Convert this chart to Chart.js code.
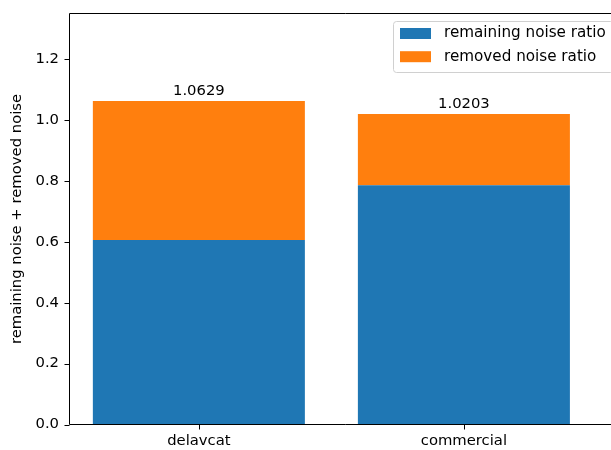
<!DOCTYPE html>
<html>
<head>
<meta charset="utf-8">
<script src="https://cdn.jsdelivr.net/npm/chart.js@4"></script>
<style>
  html, body { margin: 0; padding: 0; background: #fff; overflow: hidden; width: 611px; height: 450px; }
  #wrap { position: absolute; left: 0; top: 0; width: 620px; height: 450px; }
</style>
</head>
<body>
<div id="wrap"><canvas id="c"></canvas></div>
<script>
const categories = ['delavcat', 'commercial'];
const remaining = [0.606, 0.786];
const removed = [0.4569, 0.2343];
const totalLabels = ['1.0629', '1.0203'];
const seriesNames = ['remaining noise ratio', 'removed noise ratio'];
const yTicks = [0.0, 0.2, 0.4, 0.6, 0.8, 1.0, 1.2];
const yTitle = 'remaining noise + removed noise';

const FONT = 'DejaVu Sans';
const FS = 14.8;
const FSL = 15.2;
const BLUE = '#1f77b4', ORANGE = '#ff7f0e';

const overlay = {
  id: 'overlay',
  afterDraw(chart) {
    const ctx = chart.ctx;
    const a = chart.chartArea;
    const xs = chart.scales.x, ys = chart.scales.y;
    ctx.save();
    // keep the empty right part of the plot area clean
    ctx.fillStyle = '#fff';
    ctx.fillRect(xs.getPixelForValue(1.45), a.top + 70, a.right - xs.getPixelForValue(1.45) + 2, a.bottom - a.top - 71);
    ctx.strokeStyle = '#000';
    ctx.lineWidth = 1;
    const L = Math.floor(a.left) + 0.5, B = Math.floor(a.bottom) + 0.5, T = Math.floor(a.top) + 0.5;
    ctx.beginPath();
    ctx.moveTo(L, T); ctx.lineTo(a.right + 2, T);
    ctx.moveTo(L, T); ctx.lineTo(L, B);
    ctx.moveTo(L, B); ctx.lineTo(a.right + 2, B);
    categories.forEach((c, i) => {
      const px = Math.round(xs.getPixelForValue(i)) + 0.5;
      ctx.moveTo(px, B); ctx.lineTo(px, B + 5);
    });
    yTicks.forEach(v => {
      const py = Math.round(ys.getPixelForValue(v)) + 0.5;
      ctx.moveTo(L, py); ctx.lineTo(L - 5, py);
    });
    ctx.stroke();
    ctx.fillStyle = '#000';
    ctx.font = FS + 'px "' + FONT + '"';
    ctx.textAlign = 'center';
    ctx.textBaseline = 'alphabetic';
    categories.forEach((c, i) => {
      const tot = remaining[i] + removed[i];
      const px = xs.getPixelForValue(i);
      const py = ys.getPixelForValue(tot);
      ctx.fillText(totalLabels[i], px, py - 5.5);
    });
    const bw = 220, bh = 51;
    const bx = a.right - 7 - bw, by = a.top + 7.5;
    ctx.fillStyle = 'rgba(255,255,255,0.8)';
    ctx.strokeStyle = '#d0d0d0';
    ctx.lineWidth = 1;
    ctx.beginPath();
    if (ctx.roundRect) ctx.roundRect(bx + 0.5, by + 0.5, bw, bh, 3); else ctx.rect(bx + 0.5, by + 0.5, bw, bh);
    ctx.fill();
    ctx.stroke();
    const cols = [BLUE, ORANGE];
    ctx.font = FSL + 'px "' + FONT + '"';
    ctx.textAlign = 'left';
    ctx.textBaseline = 'middle';
    seriesNames.forEach((n, i) => {
      const cy = by + 12.5 + i * 23.2;
      ctx.fillStyle = cols[i];
      ctx.fillRect(bx + 7, cy - 5.5, 31, 11);
      ctx.fillStyle = '#000';
      ctx.fillText(n, bx + 51, cy);
    });
    ctx.restore();
  }
};

new Chart(document.getElementById('c'), {
  type: 'bar',
  data: {
    datasets: [
      { label: seriesNames[0], data: categories.map((c, i) => ({ x: i, y: remaining[i] })), backgroundColor: BLUE, borderWidth: 0 },
      { label: seriesNames[1], data: categories.map((c, i) => ({ x: i, y: removed[i] })), backgroundColor: ORANGE, borderWidth: 0 }
    ]
  },
  options: {
    responsive: true,
    maintainAspectRatio: false,
    animation: false,
    devicePixelRatio: 1,
    barPercentage: 0.8,
    categoryPercentage: 1.0,
    layout: { padding: { top: 13.5, right: 0, left: 0, bottom: 0 } },
    plugins: { legend: { display: false }, tooltip: { enabled: false } },
    scales: {
      x: {
        type: 'linear',
        stacked: true,
        min: -0.49,
        max: 1.589,
        offset: false,
        afterBuildTicks: (s) => { s.ticks = categories.map((c, i) => ({ value: i })); },
        afterFit: (s) => { s.height = 25.5; s.paddingLeft = 0; s.paddingRight = 0; },
        ticks: {
          callback: (v) => categories[v] !== undefined ? categories[v] : '',
          color: '#000', font: { family: FONT, size: FS }, padding: 8, maxRotation: 0, autoSkip: false
        },
        grid: { display: false, drawTicks: false },
        border: { display: false }
      },
      y: {
        stacked: true,
        min: 0,
        max: 1.35,
        afterBuildTicks: (s) => { s.ticks = yTicks.map(v => ({ value: v })); },
        afterFit: (s) => { s.width = 69; s.paddingTop = 0; s.paddingBottom = 0; },
        ticks: {
          callback: (v) => Number(v).toFixed(1),
          color: '#000', font: { family: FONT, size: FS }, padding: 10
        },
        grid: { display: false, drawTicks: false },
        border: { display: false },
        title: { display: true, text: yTitle, color: '#000', font: { family: FONT, size: FS }, padding: { top: 8, bottom: 0 } }
      }
    }
  },
  plugins: [overlay]
});
</script>
</body>
</html>
